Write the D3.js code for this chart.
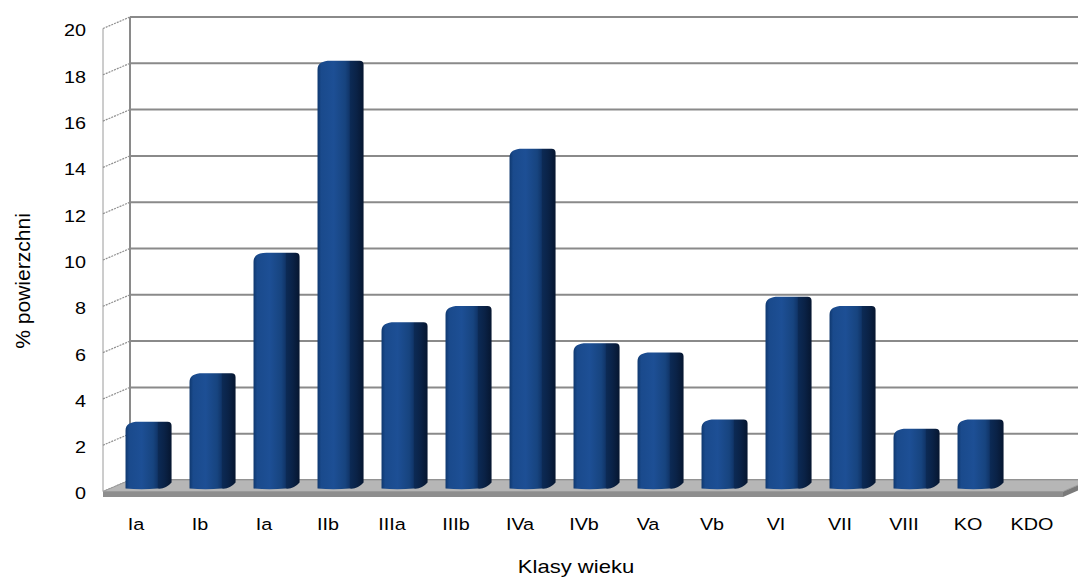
<!DOCTYPE html>
<html>
<head>
<meta charset="utf-8">
<script src="https://cdn.jsdelivr.net/npm/d3@7"></script>
<style>
  html, body { margin: 0; padding: 0; background: #fff; }
  svg { display: block; }
  text { font-family: "Liberation Sans", Arial, sans-serif; fill: #000; }
</style>
</head>
<body>
<svg id="chart" width="1078" height="577"></svg>
<script>
// Age classes and share of area (%)
const categories = ["Ia", "Ib", "Ia", "IIb", "IIIa", "IIIb", "IVa", "IVb", "Va", "Vb", "VI", "VII", "VIII", "KO", "KDO"];
const values = [2.6, 4.7, 9.9, 18.2, 6.9, 7.6, 14.4, 6.0, 5.6, 2.7, 8.0, 7.6, 2.3, 2.7, 0];
const yTicks = [0, 2, 4, 6, 8, 10, 12, 14, 16, 18, 20];
const xTitle = "Klasy wieku";
const yTitle = "% powierzchni";

const W = 1078, H = 577;
const svg = d3.select("#chart");

// 3D box: front plane and back wall offset by depth
const DX = 27, DY = -11.5;
const frontLeft = 103, frontRight = 1063;
const y = d3.scaleLinear().domain([0, 20]).range([491.5, 28.5]);   // front plane
const x = d3.scaleBand().domain(d3.range(categories.length)).range([frontLeft, frontRight]);
const by = v => y(v) + DY;   // back wall

const defs = svg.append("defs");
const grad = defs.append("linearGradient").attr("id", "barGrad")
  .attr("x1", 0).attr("y1", 0).attr("x2", 1).attr("y2", 0);
[[0, "#0f386f"], [0.08, "#1a4a8c"], [0.35, "#1d4f95"], [0.6, "#17447f"],
 [0.69, "#11366a"], [0.71, "#0c2a55"], [0.85, "#0a2246"], [1, "#061630"]]
  .forEach(([o, c]) => grad.append("stop").attr("offset", o).attr("stop-color", c));

// Back wall gridlines
const wall = svg.append("g");
wall.selectAll("line.grid").data(yTicks).join("line")
  .attr("class", "grid")
  .attr("x1", frontLeft + DX).attr("x2", W + 20)
  .attr("y1", d => by(d)).attr("y2", d => by(d))
  .attr("stroke", "#8a8a8a").attr("stroke-width", 2);
wall.append("line")
  .attr("x1", frontLeft + DX).attr("x2", frontLeft + DX)
  .attr("y1", by(20)).attr("y2", by(0))
  .attr("stroke", "#8a8a8a").attr("stroke-width", 2);

// Side wall: front edge and tick diagonals
wall.append("line")
  .attr("x1", frontLeft).attr("x2", frontLeft)
  .attr("y1", y(20)).attr("y2", y(0))
  .attr("stroke", "#9a9a9a").attr("stroke-width", 1);
wall.selectAll("line.diag").data(yTicks).join("line")
  .attr("class", "diag")
  .attr("x1", frontLeft).attr("y1", d => y(d))
  .attr("x2", frontLeft + DX).attr("y2", d => by(d))
  .attr("stroke", "#8f8f8f").attr("stroke-width", 1.2)
  .attr("stroke-dasharray", "2,1");

// Floor slab
const floor = svg.append("g");
floor.append("path")
  .attr("d", `M${frontLeft},${y(0)} L${frontRight},${y(0)} L${frontRight},${y(0) + 5.5} L${frontLeft},${y(0) + 5.5} Z`)
  .attr("fill", "#8e8e8e");
floor.append("path")
  .attr("d", `M${frontRight},${y(0)} L${frontRight + DX},${by(0)} L${frontRight + DX},${by(0) + 5.5} L${frontRight},${y(0) + 5.5} Z`)
  .attr("fill", "#7a7a7a");
floor.append("path")
  .attr("d", `M${frontLeft},${y(0)} L${frontLeft + DX},${by(0)} L${frontRight + DX},${by(0)} L${frontRight},${y(0)} Z`)
  .attr("fill", "#b6b6b6").attr("stroke", "#9a9a9a").attr("stroke-width", 1);

// Bars: a rounded column set mid-depth in each category
const t1 = 0.26, t2 = 0.78;          // front and back depth of each column
const fw = 32;                        // front face width
function barPath(i, v) {
  const c = x(i) + x.bandwidth() / 2;
  const xL = c - 16 + DX * t1 - 0.5;
  const xF = xL + fw;
  const xR = xF + DX * (t2 - t1);
  const yF = y(v) + DY * t1;
  const yB = y(v) + DY * t2;
  const y0F = y(0) + DY * t1;
  const y0B = y(0) + DY * t2;
  return `M${xL},${y0F} L${xL},${yF + 2.5}` +
    ` C${xL},${yB + 2} ${xL + 5},${yB - 0.5} ${xL + 13},${yB - 0.5}` +
    ` L${xR - 4},${yB - 0.5} Q${xR},${yB - 0.5} ${xR},${yB + 3.5}` +
    ` L${xR},${y0B} Q${xR - 6},${y0F + 1} ${xF},${y0F}` +
    ` Q${(xL + xF) / 2},${y0F + 1.5} ${xL},${y0F} Z`;
}
svg.append("g").selectAll("path").data(values).join("path")
  .filter(d => d > 0)
  .attr("d", (d, i) => barPath(i, d))
  .attr("fill", "url(#barGrad)");

// Value axis labels
const STRETCH = 1.2;
svg.append("g").selectAll("text").data(yTicks).join("text")
  .attr("transform", d => `translate(86,${y(d) + 2}) scale(${STRETCH},1)`)
  .attr("text-anchor", "end").attr("dy", "0.36em")
  .style("font-size", "16.5px")
  .text(d => d);

// Category labels
svg.append("g").selectAll("text").data(categories).join("text")
  .attr("transform", (d, i) => `translate(${x(i) + x.bandwidth() / 2 + 1},524) scale(${STRETCH},1)`)
  .attr("text-anchor", "middle").attr("dy", "0.36em")
  .style("font-size", "16.5px")
  .text(d => d);

// Axis titles
svg.append("text")
  .attr("transform", `translate(576,573) scale(1.16,1)`)
  .attr("text-anchor", "middle")
  .style("font-size", "19px")
  .text(xTitle);
svg.append("text")
  .attr("transform", `translate(30,281) rotate(-90) scale(1.08,1)`)
  .attr("text-anchor", "middle")
  .style("font-size", "19.5px")
  .text(yTitle);
</script>
</body>
</html>
